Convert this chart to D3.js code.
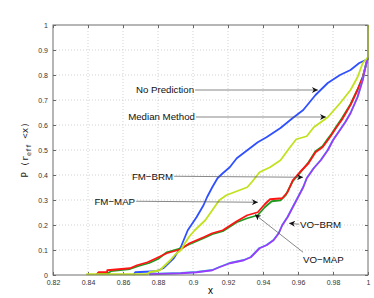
<!DOCTYPE html>
<html>
<head>
<meta charset="utf-8">
<script src="https://cdn.jsdelivr.net/npm/d3@7"></script>
<style>
  body { margin: 0; background: #fff; }
  text { font-family: "Liberation Sans", Arial, sans-serif; }
</style>
</head>
<body>
<div id="display"></div>
<script>
// CDF curves: [x, P(r_eff < x)]
var noPrediction = [[0.866,0],[0.867,0.011],[0.879,0.015],[0.883,0.027],[0.889,0.067],[0.893,0.111],[0.897,0.179],
  [0.902,0.231],[0.906,0.279],[0.908,0.311],[0.911,0.351],[0.914,0.387],[0.917,0.407],[0.921,0.431],[0.925,0.467],
  [0.931,0.499],[0.937,0.531],[0.942,0.551],[0.950,0.588],[0.957,0.628],[0.963,0.660],[0.970,0.720],[0.977,0.768],
  [0.984,0.800],[0.990,0.820],[0.995,0.848],[1.0,0.864]];
var medianMethod = [[0.839,0.003],[0.874,0.003],[0.875,0.011],[0.881,0.019],[0.884,0.039],[0.887,0.059],[0.890,0.083],
  [0.893,0.099],[0.895,0.123],[0.898,0.155],[0.901,0.179],[0.904,0.199],[0.907,0.219],[0.911,0.259],[0.915,0.299],
  [0.919,0.319],[0.925,0.335],[0.931,0.351],[0.934,0.375],[0.938,0.411],[0.944,0.431],[0.950,0.459],[0.955,0.507],
  [0.959,0.543],[0.965,0.555],[0.969,0.591],[0.977,0.631],[0.984,0.687],[0.990,0.740],[0.994,0.791],[0.997,0.848],
  [1.0,0.871],[1.0,1.0]];
var fmMap = [[0.845,0.003],[0.846,0.008],[0.852,0.008],[0.853,0.016],[0.864,0.024],[0.869,0.036],[0.875,0.048],
  [0.880,0.064],[0.885,0.091],[0.893,0.107],[0.898,0.123],[0.906,0.147],[0.911,0.163],[0.917,0.175],[0.925,0.211],
  [0.931,0.227],[0.937,0.239],[0.941,0.271],[0.945,0.295],[0.950,0.299],[0.953,0.320],[0.957,0.375],[0.961,0.407],
  [0.966,0.451],[0.970,0.495],[0.974,0.515],[0.977,0.545],[0.979,0.563],[0.982,0.595],[0.985,0.626],[0.990,0.683],
  [0.994,0.742],[0.997,0.793],[1.0,0.871]];
var fmBrm = [[0.845,0.003],[0.846,0.011],[0.851,0.011],[0.851,0.019],[0.864,0.027],[0.868,0.039],[0.874,0.051],
  [0.879,0.067],[0.885,0.087],[0.893,0.103],[0.898,0.127],[0.906,0.151],[0.911,0.167],[0.917,0.179],[0.925,0.215],
  [0.931,0.239],[0.937,0.251],[0.941,0.283],[0.944,0.303],[0.951,0.307],[0.954,0.331],[0.957,0.379],[0.961,0.411],
  [0.966,0.447],[0.970,0.491],[0.974,0.511],[0.977,0.539],[0.979,0.559],[0.982,0.591],[0.985,0.620],[0.990,0.680],
  [0.994,0.740],[0.997,0.791],[1.0,0.871]];
var voBrm = [[0.875,0.004],[0.893,0.008],[0.902,0.012],[0.911,0.020],[0.915,0.032],[0.921,0.048],[0.929,0.060],
  [0.933,0.072],[0.938,0.108],[0.942,0.120],[0.946,0.140],[0.949,0.168],[0.951,0.200],[0.954,0.232],[0.957,0.272],
  [0.960,0.312],[0.963,0.352],[0.965,0.388],[0.969,0.428],[0.973,0.460],[0.977,0.500],[0.980,0.540],[0.984,0.581],
  [0.987,0.612],[0.990,0.648],[0.994,0.712],[0.997,0.781],[0.999,0.849],[1.0,0.871]];
var voMap = [[0.875,0.003],[0.893,0.007],[0.902,0.011],[0.911,0.019],[0.915,0.031],[0.921,0.047],[0.929,0.059],
  [0.933,0.071],[0.938,0.107],[0.942,0.119],[0.946,0.139],[0.949,0.167],[0.951,0.199],[0.954,0.231],[0.957,0.271],
  [0.960,0.311],[0.963,0.351],[0.965,0.387],[0.969,0.427],[0.973,0.459],[0.977,0.499],[0.980,0.539],[0.984,0.580],
  [0.987,0.611],[0.990,0.647],[0.994,0.711],[0.997,0.780],[0.999,0.848],[1.0,0.871]];

var xTicks = [0.82,0.84,0.86,0.88,0.9,0.92,0.94,0.96,0.98,1];
var yTicks = [0,0.1,0.2,0.3,0.4,0.5,0.6,0.7,0.8,0.9,1];

// label, text x, text y, arrow start x, start y, head x, head y, anchor
var notes = [
  ["No Prediction", 0.9006, 0.740, 0.9012, 0.740, 0.9714, 0.740, "end"],
  ["Median Method", 0.9011, 0.632, 0.9017, 0.632, 0.9760, 0.632, "end"],
  ["FM\u2212BRM", 0.8886, 0.395, 0.8892, 0.395, 0.9629, 0.391, "end"],
  ["FM\u2212MAP", 0.8669, 0.295, 0.8675, 0.295, 0.9371, 0.291, "end"],
  ["VO\u2212BRM", 0.9611, 0.203, 0.9605, 0.203, 0.9549, 0.207, "start"],
  ["VO\u2212MAP", 0.9629, 0.063, 0.9629, 0.091, 0.9354, 0.242, "start"]
];

var width = 374, height = 298;
var margin = {top: 25, right: 6, bottom: 23, left: 53};

var svg = d3.select("#display").append("svg")
    .attr("width", width).attr("height", height);

var x = d3.scaleLinear().domain([0.82, 1]).range([margin.left, width - margin.right]);
var y = d3.scaleLinear().domain([0, 1]).range([height - margin.bottom, margin.top]);

// grid
svg.append("g").selectAll("line").data(xTicks.slice(1, -1)).enter().append("line")
    .attr("x1", d => x(d)).attr("x2", d => x(d))
    .attr("y1", y(0)).attr("y2", y(1))
    .attr("stroke", "#c8c8c8").attr("stroke-width", 0.8).attr("stroke-dasharray", "1,2");
svg.append("g").selectAll("line").data(yTicks.slice(1, -1)).enter().append("line")
    .attr("y1", d => y(d)).attr("y2", d => y(d))
    .attr("x1", x(0.82)).attr("x2", x(1))
    .attr("stroke", "#c8c8c8").attr("stroke-width", 0.8).attr("stroke-dasharray", "1,2");

// axes (ticks inside, like matlab)
var fmt = d => d3.format("")(+d.toFixed(2));
function styleAxis(g) {
  g.select(".domain").remove();
  g.selectAll(".tick line").attr("stroke", "#666");
  g.selectAll(".tick text").attr("fill", "#333").style("font-size", "7px")
    .style("font-family", "Liberation Sans, Arial, sans-serif");
}
svg.append("g").attr("transform", "translate(0," + y(0) + ")")
  .call(d3.axisBottom(x).tickValues(xTicks).tickFormat(fmt).tickSizeInner(-3).tickPadding(5))
  .call(styleAxis);
svg.append("g").attr("transform", "translate(0," + y(1) + ")")
  .call(d3.axisTop(x).tickValues(xTicks).tickFormat("").tickSizeInner(-3))
  .call(styleAxis);
svg.append("g").attr("transform", "translate(" + x(0.82) + ",0)")
  .call(d3.axisLeft(y).tickValues(yTicks).tickFormat(fmt).tickSizeInner(-3).tickPadding(5))
  .call(styleAxis);
svg.append("g").attr("transform", "translate(" + x(1) + ",0)")
  .call(d3.axisRight(y).tickValues(yTicks).tickFormat("").tickSizeInner(-3))
  .call(styleAxis);

// curves
var line = d3.line().x(d => x(d[0])).y(d => y(d[1]));
var series = [
  [noPrediction, "#2f50ff"],
  [fmMap, "#1f9a1f"],
  [fmBrm, "#ff1414"],
  [voBrm, "#33e0d0"],
  [voMap, "#9a3cff"],
  [medianMethod, "#c2e21e"]
];
svg.append("g").selectAll("path").data(series).enter().append("path")
    .attr("d", d => line(d[0]))
    .attr("fill", "none").attr("stroke", d => d[1]).attr("stroke-width", 1.8)
    .attr("stroke-linejoin", "round");

// box
svg.append("rect")
    .attr("x", x(0.82)).attr("y", y(1))
    .attr("width", x(1) - x(0.82)).attr("height", y(0) - y(1))
    .attr("fill", "none").attr("stroke", "#6e6e6e").attr("stroke-width", 1);

// annotations
svg.append("defs").append("marker")
    .attr("id", "arr").attr("viewBox", "0 0 10 10").attr("refX", 10).attr("refY", 5)
    .attr("markerWidth", 8).attr("markerHeight", 6).attr("markerUnits", "userSpaceOnUse")
    .attr("orient", "auto")
  .append("path").attr("d", "M0,0 L10,5 L0,10 L3,5 Z").attr("fill", "#111");

var ann = svg.append("g");
ann.selectAll("line").data(notes).enter().append("line")
    .attr("x1", d => x(d[3])).attr("y1", d => y(d[4]))
    .attr("x2", d => x(d[5])).attr("y2", d => y(d[6]))
    .attr("stroke", "#555").attr("stroke-width", 0.7)
    .attr("marker-end", "url(#arr)");
ann.selectAll("text").data(notes).enter().append("text")
    .attr("x", d => x(d[1])).attr("y", d => y(d[2]))
    .attr("dy", "0.35em")
    .attr("text-anchor", d => d[7])
    .style("font-size", "9.7px").attr("fill", "#111")
    .text(d => d[0]);

// axis labels
svg.append("text").attr("x", (x(0.82) + x(1)) / 2).attr("y", 294)
    .attr("text-anchor", "middle").style("font-size", "10px").text("x");

var yl = svg.append("text")
    .attr("transform", "translate(28," + ((y(0) + y(1)) / 2) + ") rotate(-90)")
    .attr("text-anchor", "middle")
    .style("font-family", "DejaVu Sans Mono, monospace").style("font-size", "9px").attr("fill", "#222");
yl.append("tspan").text("P (r");
yl.append("tspan").attr("dy", 2.5).style("font-size", "6.5px").text("eff");
yl.append("tspan").attr("dy", -2.5).text(" <x)");
</script>
</body>
</html>
